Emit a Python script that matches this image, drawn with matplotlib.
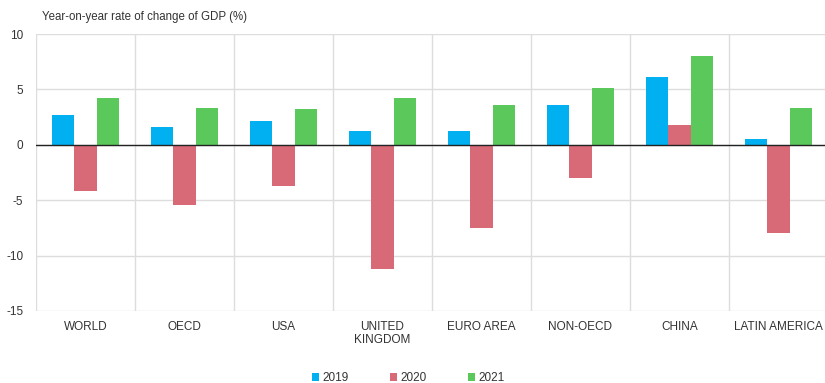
import matplotlib
matplotlib.use("Agg")
import matplotlib.pyplot as plt
import numpy as np

plt.rcParams["font.family"] = ["Liberation Sans", "DejaVu Sans"]
plt.rcParams["axes.unicode_minus"] = False

regions = ["WORLD", "OECD", "USA", "UNITED\nKINGDOM", "EURO AREA",
           "NON-OECD", "CHINA", "LATIN AMERICA"]
gdp_2019 = [2.7, 1.65, 2.15, 1.25, 1.25, 3.6, 6.1, 0.5]
gdp_2020 = [-4.2, -5.4, -3.7, -11.2, -7.5, -2.95, 1.8, -8.0]
gdp_2021 = [4.2, 3.3, 3.2, 4.2, 3.6, 5.1, 8.0, 3.3]
years = ["2019", "2020", "2021"]
colors = ["#00B0F0", "#D86A77", "#5BC85B"]

fig = plt.figure(figsize=(8.25, 3.83), dpi=100)
ax = fig.add_axes([0.0436, 0.188, 0.96, 0.723])

x = np.arange(len(regions))
w = 0.223
for i, (vals, lab, c) in enumerate(zip([gdp_2019, gdp_2020, gdp_2021], years, colors)):
    ax.bar(x + (i - 1) * w, vals, width=w, color=c, label=lab, zorder=3)

ax.set_xlim(-0.5, len(regions) - 0.5)
ax.set_ylim(-15, 10)
ax.set_yticks([-15, -10, -5, 0, 5, 10])
ax.set_xticks(x)
ax.set_xticklabels(regions, fontsize=8.5, color="#333333", linespacing=1.1)
ax.tick_params(axis="y", labelsize=8.5, labelcolor="#333333", length=0, pad=9)
ax.tick_params(axis="x", length=0, pad=7)

# vertical separators between regions + horizontal grid
ax.set_xticks(np.arange(-0.5, len(regions) + 0.5, 1), minor=True)
ax.grid(which="minor", axis="x", color="#dddddd", lw=1, zorder=0)
ax.grid(which="major", axis="y", color="#dddddd", lw=1, zorder=0)
ax.tick_params(which="minor", length=0)
ax.axhline(0, color="#222222", lw=1, zorder=4)
for s in ax.spines.values():
    s.set_visible(False)

fig.text(0.051, 0.955, "Year-on-year rate of change of GDP (%)", fontsize=8.3,
         color="#333333", va="center")

ax.legend(loc="center", bbox_to_anchor=(0.47, -0.243), ncol=3, frameon=False,
          fontsize=8.5, handlelength=0.6, handleheight=0.6, handletextpad=0.3,
          columnspacing=3.5, labelcolor="#333333")

fig.savefig("out.png", dpi=100)
